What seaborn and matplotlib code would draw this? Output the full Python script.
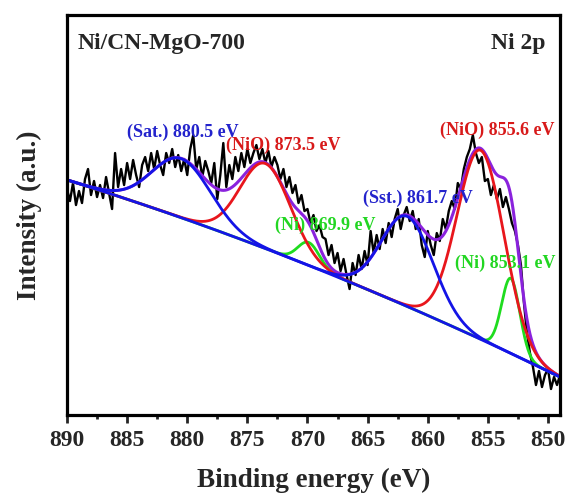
import numpy as np
import pandas as pd
import seaborn as sns
import matplotlib
matplotlib.use("Agg")
import matplotlib.pyplot as plt
from matplotlib.ticker import MultipleLocator

# --- Measured Ni 2p spectrum (binding energy grid, 0.25 eV step) ---
energy = np.linspace(890.0, 849.0, 165)
counts = [
    226, 214, 232, 210, 224, 212, 236, 246, 220, 234, 218,
    230, 217, 238, 222, 206, 262, 228,
    246, 230, 252, 236, 255, 240, 228, 250,
    258, 244, 262, 246, 264, 250, 240, 262, 252, 266, 248, 260, 244,
    256, 240, 266, 280, 246, 258, 238, 254,
    244, 232, 252, 216, 240, 272,
    228, 250, 236, 258, 244, 262, 248, 266, 252, 262, 270, 256,
    266, 252, 264, 248, 258,
    250, 236, 246, 228,
    238, 222, 230, 212, 220, 204,
    206, 192, 200, 184, 190, 178,
    176, 160, 170, 152,
    162, 144, 156, 140, 126, 152,
    140, 160, 146, 164, 150, 184,
    162, 180, 166, 186, 172,
    192, 178, 196, 206, 186, 200, 208, 194, 204,
    186, 196, 170, 158, 184, 170, 160, 182, 174,
    196, 186, 204, 214, 206, 232, 226,
    246, 258, 266, 280,
    262, 252, 258, 234,
    236, 220, 230, 216,
    226, 208, 218,
    206, 192, 184, 170,
    150,
    112, 82, 62,
    48, 30, 44, 28, 40, 46, 26, 38, 30, 40,
]

# --- Peak fit parameters ---
bg_coef = [38.0, 5.89, -0.0264]          # background: c0 + c1*(E-849) + c2*(E-849)^2
peak_names = ["(NiO)", "(NiO)", "(Ni)", "(Ni)", "(Sst.)", "(Sat.)"]
peak_centres = [855.6, 873.5, 853.1, 869.9, 861.7, 880.5]
peak_heights = [189.0, 85.0, 75.0, 23.0, 90.0, 59.0]
peak_sigmas = [1.95, 2.1, 0.75, 0.9, 2.15, 2.45]
peak_groups = ["NiO", "NiO", "Ni", "Ni", "Sat", "Sat"]

group_colors = {"NiO": "#e8161c", "Ni": "#1fdc1f", "Sat": "#1414e6"}
text_colors = {"NiO": "#d81a1a", "Ni": "#22d622", "Sat": "#2323cc"}
envelope_color = "#8a22dd"

fine_e = np.linspace(890.0, 849.0, 1200)
background = bg_coef[0] + bg_coef[1] * (fine_e - 849) + bg_coef[2] * (fine_e - 849) ** 2


def gauss(x, c, h, s):
    return h * np.exp(-((x - c) ** 2) / (2 * s ** 2))


components = {g: np.zeros_like(fine_e) for g in group_colors}
for c, h, s, g in zip(peak_centres, peak_heights, peak_sigmas, peak_groups):
    components[g] += gauss(fine_e, c, h, s)
envelope = background + sum(components.values())

sns.set_theme(style="white")
plt.rcParams["font.family"] = ["Liberation Serif", "DejaVu Serif"]
plt.rcParams["font.weight"] = "bold"

fig = plt.figure(figsize=(5.7, 4.95), dpi=100)
ax = fig.add_axes([0.1175, 0.1616, 0.865, 0.808])

raw = pd.DataFrame({"energy": energy, "counts": counts})
sns.lineplot(data=raw, x="energy", y="counts", ax=ax, color="black", lw=1.7,
             sort=False)

sns.lineplot(x=fine_e, y=envelope, ax=ax, color=envelope_color, lw=2.2, sort=False)
sns.lineplot(x=fine_e, y=background + components["Ni"], ax=ax,
             color=group_colors["Ni"], lw=2.0, sort=False)
sns.lineplot(x=fine_e, y=background + components["NiO"], ax=ax,
             color=group_colors["NiO"], lw=2.0, sort=False)
sns.lineplot(x=fine_e, y=background + components["Sat"], ax=ax,
             color=group_colors["Sat"], lw=2.0, sort=False)
sns.lineplot(x=fine_e, y=background, ax=ax, color=group_colors["Sat"], lw=2.0,
             sort=False)

# peak labels (left edge, centre height) in data coordinates
label_pos = {
    880.5: (885.0, 283),
    873.5: (876.8, 270),
    869.9: (872.7, 190),
    861.7: (865.4, 217),
    855.6: (859.0, 285),
    853.1: (857.7, 152),
}
for name, c, g in zip(peak_names, peak_centres, peak_groups):
    x0, y0 = label_pos[c]
    ax.text(x0, y0, f"{name} {c:.1f} eV", color=text_colors[g], fontsize=13,
            fontweight="bold", ha="left", va="center")

ax.text(0.022, 0.928, "Ni/CN-MgO-700", transform=ax.transAxes, fontsize=17,
        fontweight="bold", ha="left", va="center")
ax.text(0.97, 0.928, "Ni 2p", transform=ax.transAxes, fontsize=17,
        fontweight="bold", ha="right", va="center")

ax.set_xlim(890, 849)
ax.set_ylim(0, 400)
ax.xaxis.set_major_locator(MultipleLocator(5))
ax.xaxis.set_minor_locator(MultipleLocator(2.5))
ax.set_yticks([])
ax.tick_params(axis="x", which="major", direction="out", length=6, width=2,
               labelsize=17, pad=5, bottom=True)
ax.tick_params(axis="x", which="minor", direction="out", length=3, width=2,
               bottom=True)
for lab in ax.get_xticklabels():
    lab.set_fontweight("bold")
for sp in ax.spines.values():
    sp.set_linewidth(2.3)
    sp.set_color("black")

ax.set_xlabel("Binding energy (eV)", fontsize=19.5, fontweight="bold", labelpad=12)
ax.set_ylabel("Intensity (a.u.)", fontsize=19.5, fontweight="bold", labelpad=18)

fig.savefig("out.png", dpi=100)
